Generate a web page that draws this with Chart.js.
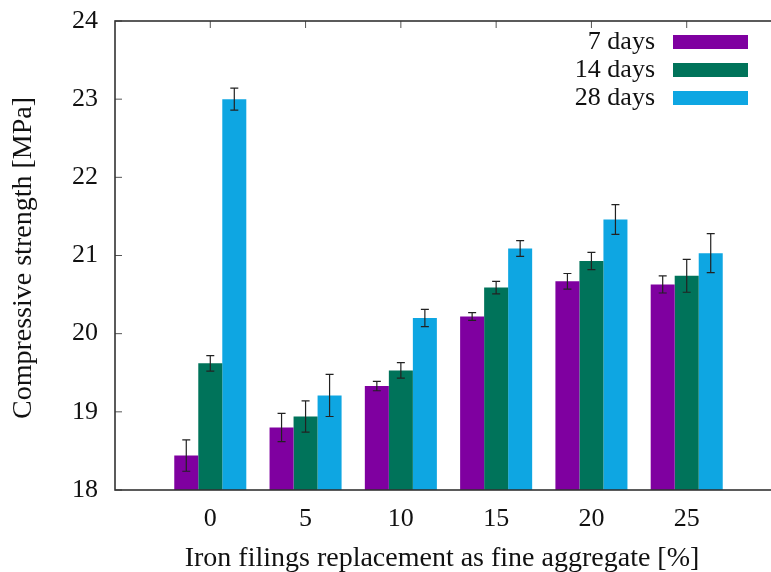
<!DOCTYPE html>
<html>
<head>
<meta charset="utf-8">
<script src="https://cdn.jsdelivr.net/npm/chart.js@4/dist/chart.umd.min.js"></script>
<style>
  html, body { margin: 0; padding: 0; background: #fff; overflow: hidden; }
  #wrap { width: 771px; height: 572px; overflow: hidden; }
</style>
</head>
<body>
<div id="wrap"><canvas id="strengthChart" width="782" height="572"></canvas></div>
<script>
// dati
const categories = ["", "0", "5", "10", "15", "20", "25", ""];
const seriesNames = ["7 days", "14 days", "28 days"];
const seriesColors = ["#7f00a0", "#00735a", "#0ea6e2"];

const days7 = [null, 18.44, 18.80, 19.33, 20.22, 20.67, 20.63, null];
const days14 = [null, 19.62, 18.94, 19.53, 20.59, 20.93, 20.74, null];
const days28 = [null, 23.00, 19.21, 20.20, 21.09, 21.46, 21.03, null];

const err7 = [null, 0.20, 0.18, 0.06, 0.05, 0.10, 0.11, null];
const err14 = [null, 0.10, 0.20, 0.10, 0.08, 0.11, 0.21, null];
const err28 = [null, 0.14, 0.27, 0.11, 0.10, 0.19, 0.25, null];

const yTicks = [18, 19, 20, 21, 22, 23, 24];

const FONT = "'Liberation Serif', 'DejaVu Serif', serif";
const INK = "#111";

// niente padding automatico delle scale: l'area del grafico resta fissa
function noScalePadding(s) {
  s.paddingTop = 0;
  s.paddingBottom = 0;
  s.paddingLeft = 0;
  s.paddingRight = 0;
}

// barre d'errore
const errorBars = {
  id: "errorBars",
  afterDatasetsDraw(chart) {
    const { ctx, scales } = chart;
    const errs = [err7, err14, err28];
    ctx.save();
    ctx.strokeStyle = "#222";
    ctx.lineWidth = 1.2;
    chart.data.datasets.forEach((ds, di) => {
      const meta = chart.getDatasetMeta(di);
      meta.data.forEach((bar, i) => {
        const v = ds.data[i];
        const e = errs[di][i];
        if (v == null || e == null) return;
        const yHi = scales.y.getPixelForValue(v + e);
        const yLo = scales.y.getPixelForValue(v - e);
        ctx.beginPath();
        ctx.moveTo(bar.x, yHi); ctx.lineTo(bar.x, yLo);
        ctx.moveTo(bar.x - 4, yHi); ctx.lineTo(bar.x + 4, yHi);
        ctx.moveTo(bar.x - 4, yLo); ctx.lineTo(bar.x + 4, yLo);
        ctx.stroke();
      });
    });
    ctx.restore();
  },
};

// cornice, tacche interne, titoli e legenda in stile gnuplot
const gnuplotFrame = {
  id: "gnuplotFrame",
  beforeDatasetsDraw(chart) {
    const { ctx, chartArea: a, scales } = chart;
    ctx.save();
    ctx.strokeStyle = "#555";
    ctx.lineWidth = 1;
    ctx.beginPath();
    yTicks.forEach((t) => {
      const y = scales.y.getPixelForValue(t);
      ctx.moveTo(a.left, y); ctx.lineTo(a.left + 7, y);
    });
    categories.forEach((c, i) => {
      if (!c) return;
      const x = scales.x.getPixelForValue(i);
      ctx.moveTo(x, a.top); ctx.lineTo(x, a.top + 7);
      ctx.moveTo(x, a.bottom); ctx.lineTo(x, a.bottom - 7);
    });
    ctx.stroke();
    ctx.restore();
  },
  afterDraw(chart) {
    const { ctx, chartArea: a } = chart;
    ctx.save();
    ctx.strokeStyle = "#333";
    ctx.lineWidth = 1.6;
    ctx.strokeRect(a.left, a.top, a.right - a.left, a.bottom - a.top);

    ctx.fillStyle = INK;
    ctx.font = "28px " + FONT;
    ctx.textAlign = "center";
    ctx.textBaseline = "middle";
    ctx.fillText("Iron filings replacement as fine aggregate [%]", 442, 559);
    ctx.save();
    ctx.translate(24, 258);
    ctx.rotate(-Math.PI / 2);
    ctx.fillText("Compressive strength [MPa]", 0, 0);
    ctx.restore();

    ctx.font = "26px " + FONT;
    ctx.textAlign = "right";
    seriesNames.forEach((name, i) => {
      const y = 42 + i * 28;
      ctx.fillStyle = INK;
      ctx.fillText(name, 655, y);
      ctx.fillStyle = seriesColors[i];
      ctx.fillRect(673, y - 7, 75, 14);
    });
    ctx.restore();
  },
};

new Chart(document.getElementById("strengthChart"), {
  type: "bar",
  data: {
    labels: categories,
    datasets: [days7, days14, days28].map((d, i) => ({
      label: seriesNames[i],
      data: d,
      backgroundColor: seriesColors[i],
      borderWidth: 0,
      categoryPercentage: 0.756,
      barPercentage: 1,
    })),
  },
  options: {
    responsive: false,
    animation: false,
    layout: { autoPadding: false, padding: { top: 21, right: 0, left: 0, bottom: 0 } },
    plugins: {
      legend: { display: false },
      tooltip: { enabled: false },
    },
    scales: {
      x: {
        offset: false,
        grid: { display: false, drawTicks: false },
        border: { display: false },
        ticks: {
          autoSkip: false,
          maxRotation: 0,
          padding: 14,
          color: INK,
          font: { family: FONT, size: 26 },
        },
        afterFit: (s) => { s.height = 82; noScalePadding(s); },
      },
      y: {
        min: 18,
        max: 24,
        grid: { display: false, drawTicks: false },
        border: { display: false },
        ticks: {
          stepSize: 1,
          padding: 17,
          color: INK,
          font: { family: FONT, size: 26 },
        },
        afterFit: (s) => { s.width = 115; noScalePadding(s); },
      },
    },
  },
  plugins: [errorBars, gnuplotFrame],
});
</script>
</body>
</html>
